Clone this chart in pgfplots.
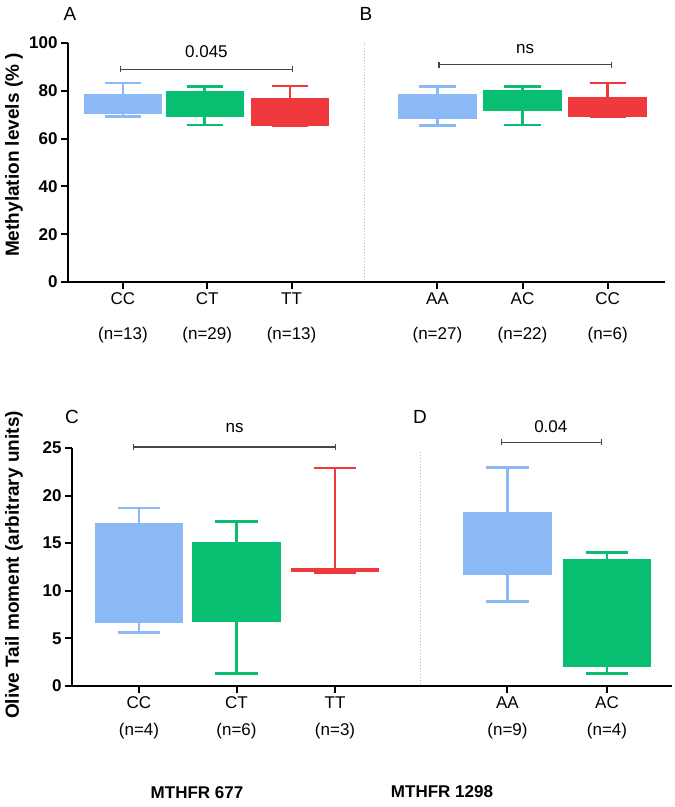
\documentclass[border=0pt]{standalone}
\usepackage{fontspec}
\setmainfont{Liberation Sans}
\usepackage{pgfplots}
\pgfplotsset{compat=1.18}
\usepgfplotslibrary{statistics}
\usetikzlibrary{arrows.meta}

\definecolor{bxblue}{RGB}{138,185,245}
\definecolor{bxgreen}{RGB}{8,190,112}
\definecolor{bxred}{RGB}{240,57,60}
\definecolor{sigc}{RGB}{70,70,70}

\newcommand{\fs}[1]{\fontsize{#1}{#1}\selectfont}

\pgfplotsset{
  panel/.style={
    scale only axis, clip=false,
    axis x line*=bottom, axis y line*=left,
    axis line style={line width=2.2pt},
    every tick/.style={black, line width=2pt},
    major tick length=7pt, tick align=outside,
    /pgf/number format/assume math mode=true,
    yticklabel style={font=\bfseries\fs{17}},
    xticklabel style={font=\fs{17}, align=center},
    boxplot/draw direction=y,
  },
  gbox/.style={draw=#1, fill=#1, line width=2.5pt},
  sig/.style={sigc, line width=1.3pt, {Bar[width=6pt]}-{Bar[width=6pt]}},
}

\begin{document}
\begin{tikzpicture}
\useasboundingbox (0pt,0pt) rectangle (675pt,-807pt);

% panel letters and free text
\node[font=\fs{19}] at (70pt,-14pt) {A};
\node[font=\fs{19}] at (366pt,-14pt) {B};
\node[font=\fs{19}] at (72pt,-417pt) {C};
\node[font=\fs{19}] at (420pt,-417pt) {D};
\node[rotate=90, font=\bfseries\fs{19}] at (14pt,-155pt) {Methylation levels (\% )};
\node[rotate=90, font=\bfseries\fs{19}] at (14pt,-565pt) {Olive Tail moment (arbitrary units)};
\node[font=\bfseries\fs{17}] at (197pt,-793pt) {MTHFR 677};
\node[font=\bfseries\fs{17}] at (442pt,-792pt) {MTHFR 1298};

% ---- top: methylation ----
\begin{axis}[panel, at={(68pt,-282pt)}, anchor=south west,
  width=597pt, height=239pt,
  xmin=0.348, xmax=7.43, ymin=0, ymax=100,
  ytick={0,20,40,60,80,100},
  xtick={1,2,3,4.73,5.74,6.75},
  xticklabels={{CC\\[18pt](n=13)},{CT\\[18pt](n=29)},{TT\\[18pt](n=13)},
               {AA\\[18pt](n=27)},{AC\\[18pt](n=22)},{CC\\[18pt](n=6)}},
  boxplot/box extend=0.9, boxplot/whisker extend=0.43]
\addplot[gbox=bxblue, boxplot prepared={draw position=1, lower whisker=69.2,
  lower quartile=70.9, median=74, upper quartile=78.0, upper whisker=83.2}] coordinates {};
\addplot[gbox=bxgreen, boxplot prepared={draw position=1.97, lower whisker=65.7,
  lower quartile=69.7, median=74, upper quartile=79.4, upper whisker=81.8}] coordinates {};
\addplot[gbox=bxred, boxplot prepared={draw position=2.98, lower whisker=65.3,
  lower quartile=65.7, median=70, upper quartile=76.5, upper whisker=82.1}] coordinates {};
\addplot[gbox=bxblue, boxplot prepared={draw position=4.73, lower whisker=65.5,
  lower quartile=68.7, median=73, upper quartile=78.0, upper whisker=81.8}] coordinates {};
\addplot[gbox=bxgreen, boxplot prepared={draw position=5.74, lower whisker=65.6,
  lower quartile=72.2, median=76, upper quartile=80.0, upper whisker=81.8}] coordinates {};
\addplot[gbox=bxred, boxplot prepared={draw position=6.75, lower whisker=69.2,
  lower quartile=69.7, median=73, upper quartile=76.9, upper whisker=83.2}] coordinates {};
% divider
\addplot[gray!55, dotted, line width=1pt] coordinates {(3.86,0.8) (3.86,100)};
% significance
\addplot[sig] coordinates {(0.96,89) (3.02,89)};
\node[font=\fs{17}] at (axis cs:1.99,96.5) {0.045};
\addplot[sig] coordinates {(4.74,91) (6.8,91)};
\node[font=\fs{17}] at (axis cs:5.77,97.5) {ns};
\end{axis}

% ---- bottom: olive tail moment ----
\begin{axis}[panel, at={(72pt,-686pt)}, anchor=south west,
  width=600pt, height=238pt,
  xmin=0.32, xmax=6.41, ymin=0, ymax=25,
  ytick={0,5,10,15,20,25},
  xtick={1,1.99,2.99,4.74,5.75},
  xticklabels={{CC\\[10pt](n=4)},{CT\\[10pt](n=6)},{TT\\[10pt](n=3)},
               {AA\\[10pt](n=9)},{AC\\[10pt](n=4)}},
  boxplot/box extend=0.87, boxplot/whisker extend=0.43]
\addplot[gbox=bxblue, boxplot prepared={draw position=1, lower whisker=5.6,
  lower quartile=6.8, median=12, upper quartile=17.0, upper whisker=18.7}] coordinates {};
\addplot[gbox=bxgreen, boxplot prepared={draw position=1.99, lower whisker=1.33,
  lower quartile=6.85, median=10, upper quartile=15.0, upper whisker=17.3}] coordinates {};
\addplot[gbox=bxred, boxplot prepared={draw position=2.99, lower whisker=11.9,
  lower quartile=12.1, median=12.2, upper quartile=12.3, upper whisker=22.9}] coordinates {};
\addplot[gbox=bxblue, boxplot prepared={draw position=4.74, lower whisker=8.9,
  lower quartile=11.76, median=15, upper quartile=18.1, upper whisker=22.97}] coordinates {};
\addplot[gbox=bxgreen, boxplot prepared={draw position=5.75, lower whisker=1.33,
  lower quartile=2.17, median=8, upper quartile=13.2, upper whisker=14.0}] coordinates {};
% divider
\addplot[gray!55, dotted, line width=1pt] coordinates {(3.86,0.2) (3.86,24.7)};
% significance
\addplot[sig] coordinates {(0.94,25.1) (3.0,25.1)};
\node[font=\fs{17}] at (axis cs:1.97,27.1) {ns};
\addplot[sig] coordinates {(4.67,25.6) (5.7,25.6)};
\node[font=\fs{17}] at (axis cs:5.18,27.2) {0.04};
\end{axis}
\end{tikzpicture}
\end{document}
